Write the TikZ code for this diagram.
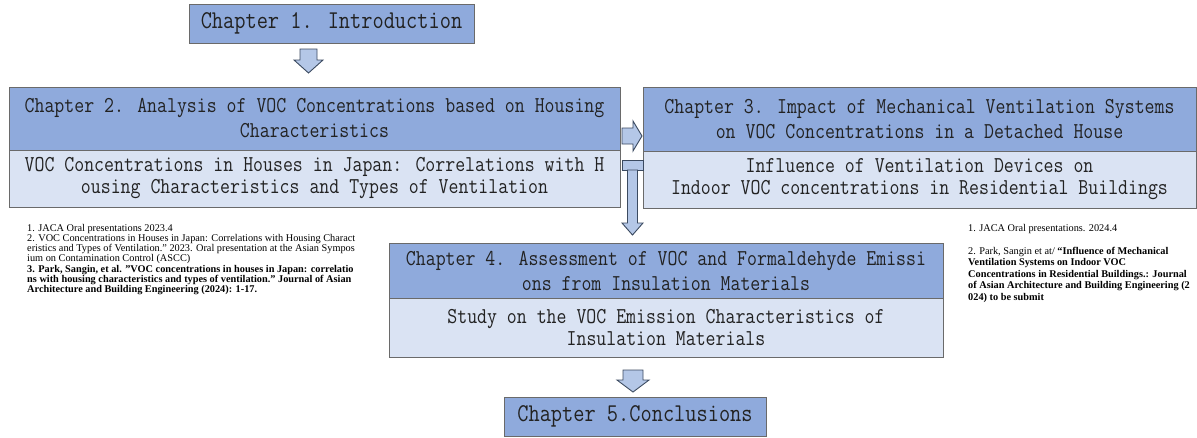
\documentclass[tikz,border=0pt]{standalone}
\usepackage{fontspec}
\setmainfont{Liberation Serif}
\newfontfamily\boxfont{Latin Modern Mono}[FakeStretch=0.85]
\usetikzlibrary{calc}
\definecolor{hdrblue}{HTML}{8FAADC}
\definecolor{subblue}{HTML}{DAE3F3}
\definecolor{arrfill}{HTML}{B4C7E7}
\definecolor{arrline}{HTML}{3B4A60}
\definecolor{boxline}{HTML}{6A6A6A}
\definecolor{boxtext}{HTML}{222222}
\tikzset{
  chapbox/.style={draw=boxline, line width=1pt, rectangle, inner sep=0pt, align=center, text=boxtext},
  bigbox/.style={chapbox, fill=hdrblue, font=\boxfont\fontsize{25.6}{28}\selectfont},
  hdrbox/.style={chapbox, fill=hdrblue, font=\boxfont\fontsize{22.7}{25}\selectfont},
  subbox/.style={chapbox, fill=subblue, font=\boxfont\fontsize{22.7}{22}\selectfont},
  barrow/.style={draw=arrline, fill=arrfill, line width=0.9pt, line join=miter},
  reftext/.style={anchor=north west, inner sep=0pt, align=left, font=\fontsize{10.3}{10.2}\selectfont},
  reftextb/.style={reftext, font=\fontsize{10.3}{11.5}\selectfont}
}
% down block arrow: #1 top centre, #2 tip, #3 shaft half width, #4 head half width, #5 head length
\newcommand\bdown[5]{\draw[barrow] ($(#1)+(-#3,0)$) -- ($(#1)+(#3,0)$) -- ($(#2)+(#3,#5)$) -- ($(#2)+(#4,#5)$) -- (#2) -- ($(#2)+(-#4,#5)$) -- ($(#2)+(-#3,#5)$) -- cycle;}
% right block arrow: #1 tail centre, #2 tip, #3 shaft half height, #4 head half height, #5 head length
\newcommand\bright[5]{\draw[barrow] ($(#1)+(0,#3)$) -- ($(#2)+(-#5,#3)$) -- ($(#2)+(-#5,#4)$) -- (#2) -- ($(#2)+(-#5,-#4)$) -- ($(#2)+(-#5,-#3)$) -- ($(#1)+(0,-#3)$) -- cycle;}
\begin{document}
\begin{tikzpicture}[x=1pt,y=1pt]
\useasboundingbox (0,0) rectangle (1197,-437);

% chapter boxes
\node[bigbox, minimum width=285, minimum height=39] (c1) at (331.5,-23.5) {Chapter 1. Introduction};
\node[hdrbox, minimum width=611, minimum height=63] (c2h) at (314.5,-118.5) {Chapter 2. Analysis of VOC Concentrations based on Housing\\Characteristics};
\node[subbox, minimum width=611, minimum height=57] (c2s) at (314.5,-178.5) {VOC Concentrations in Houses in Japan: Correlations with H\\ousing Characteristics and Types of Ventilation};
\node[hdrbox, minimum width=553, minimum height=64] (c3h) at (919.5,-119) {Chapter 3. Impact of Mechanical Ventilation Systems\\on VOC Concentrations in a Detached House};
\node[subbox, minimum width=553, minimum height=57] (c3s) at (919.5,-179.5) {Influence of Ventilation Devices on\\Indoor VOC concentrations in Residential Buildings};
\node[hdrbox, minimum width=554, minimum height=55] (c4h) at (666,-270.5) {Chapter 4. Assessment of VOC and Formaldehyde Emissi\\ons from Insulation Materials};
\node[subbox, minimum width=554, minimum height=59] (c4s) at (666,-327.5) {Study on the VOC Emission Characteristics of\\Insulation Materials};
\node[bigbox, minimum width=262, minimum height=39] (c5) at (635,-416.5) {Chapter 5.Conclusions};

% connectors (block arrows)
\coordinate (a1t) at (308.5,-49);
\coordinate (a1h) at (308.5,-73);
\bdown{a1t}{a1h}{8.5}{14.5}{13}

\coordinate (a2t) at (622,-136);
\coordinate (a2h) at (642,-136);
\bright{a2t}{a2h}{8}{15}{9}

\draw[barrow] (622,-160) rectangle (643,-170);
\coordinate (a3t) at (632.5,-170);
\coordinate (a3h) at (632.5,-235);
\bdown{a3t}{a3h}{5}{10.5}{12}

\coordinate (a4t) at (633,-370);
\coordinate (a4h) at (633,-392);
\bdown{a4t}{a4h}{10}{16}{12}

% reference notes
\node[reftext] (refl) at (27,-224) {1. JACA Oral presentations 2023.4\\
2. VOC Concentrations in Houses in Japan: Correlations with Housing Charact\\
eristics and Types of Ventilation." 2023. Oral presentation at the Asian Sympos\\
ium on Contamination Control (ASCC)\\
\textbf{3. Park, Sangin, et al. "VOC concentrations in houses in Japan: correlatio}\\
\textbf{ns with housing characteristics and types of ventilation." Journal of Asian}\\
\textbf{Architecture and Building Engineering (2024): 1-17.}};

\node[reftextb] (refr) at (968,-224) {1. JACA Oral presentations. 2024.4\\[11.5pt]
2. Park, Sangin et at/ \textbf{“Influence of Mechanical}\\
\textbf{Ventilation Systems on Indoor VOC}\\
\textbf{Concentrations in Residential Buildings.: Journal}\\
\textbf{of Asian Architecture and Building Engineering (2}\\
\textbf{024) to be submit}};
\end{tikzpicture}
\end{document}
